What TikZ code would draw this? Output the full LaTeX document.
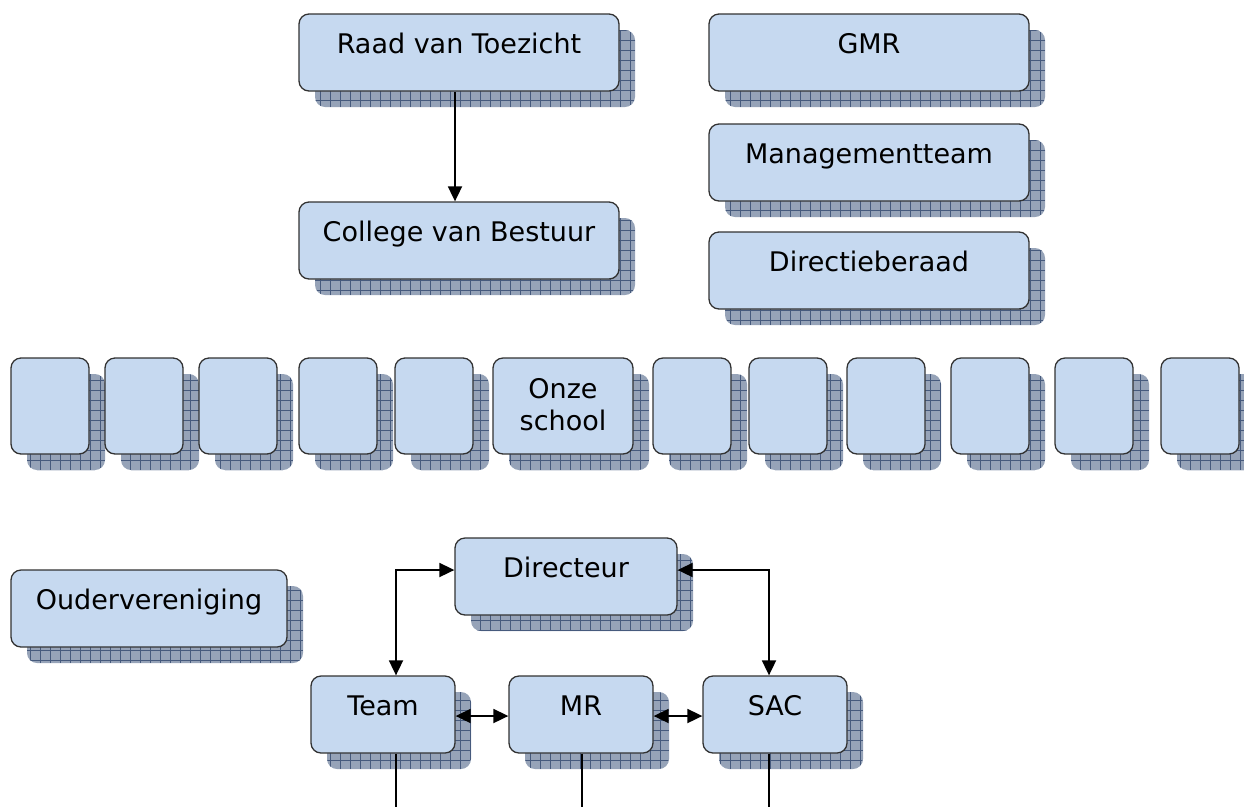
\documentclass[tikz,border=0pt]{standalone}
\usepackage{fontspec}
\setmainfont{DejaVu Sans}
\usetikzlibrary{arrows.meta}
\definecolor{boxfill}{RGB}{198,217,240}
\definecolor{boxline}{RGB}{50,50,50}
\definecolor{shadowfill}{RGB}{150,163,184}
\definecolor{gridline}{RGB}{70,90,125}
\tikzset{
  orgbox/.style={draw=boxline, line width=1.3pt, fill=boxfill, rounded corners=10pt, inner sep=0pt},
  shadowbox/.style={fill=shadowfill, rounded corners=10pt,
    path picture={\draw[gridline, line width=0.5pt, step=10pt] (path picture bounding box.south west) grid (path picture bounding box.north east);}},
  lbl/.style={font=\fontsize{27}{32}\selectfont, inner sep=0pt, align=center},
  conn/.style={line width=1.8pt, black},
  tip/.style={-{Triangle[length=15pt,width=14pt]}},
  tips/.style={{Triangle[length=15pt,width=14pt]}-{Triangle[length=15pt,width=14pt]}}
}
% name, x1, y1, x2, y2
\newcommand\orgunit[5]{%
  \path[shadowbox] ({#2+16},{#3+16}) rectangle ({#4+16},{#5+16});
  \node[orgbox, minimum width={#4-#2}, minimum height={#5-#3}] (#1) at ({(#2+#4)/2},{(#3+#5)/2}) {};
}
\begin{document}
\begin{tikzpicture}[x=1pt,y=-1pt]
\useasboundingbox (0,0) rectangle (1244,807);
\begin{scope}
\clip (0,0) rectangle (1244,807);
% top
\orgunit{raad}{299}{14}{619}{91}
\orgunit{cvb}{299}{202}{619}{279}
\orgunit{gmr}{709}{14}{1029}{91}
\orgunit{mt}{709}{124}{1029}{201}
\orgunit{db}{709}{232}{1029}{309}
% schools row
\orgunit{s1}{11}{358}{89}{454}
\orgunit{s2}{105}{358}{183}{454}
\orgunit{s3}{199}{358}{277}{454}
\orgunit{s4}{299}{358}{377}{454}
\orgunit{s5}{395}{358}{473}{454}
\orgunit{onze}{493}{358}{633}{454}
\orgunit{s7}{653}{358}{731}{454}
\orgunit{s8}{749}{358}{827}{454}
\orgunit{s9}{847}{358}{925}{454}
\orgunit{s10}{951}{358}{1029}{454}
\orgunit{s11}{1055}{358}{1133}{454}
\orgunit{s12}{1161}{358}{1239}{454}
% bottom
\orgunit{ov}{11}{570}{287}{647}
\orgunit{dir}{455}{538}{677}{615}
\orgunit{team}{311}{676}{455}{753}
\orgunit{mr}{509}{676}{653}{753}
\orgunit{sac}{703}{676}{847}{753}
\end{scope}
% labels
\node[lbl, anchor=base] (raad-t) at (459,53) {Raad van Toezicht};
\node[lbl, anchor=base] (cvb-t) at (459,241) {College van Bestuur};
\node[lbl, anchor=base] (gmr-t) at (869,53) {GMR};
\node[lbl, anchor=base] (mt-t) at (869,163) {Managementteam};
\node[lbl, anchor=base] (db-t) at (869,271) {Directieberaad};
\node[lbl] (onze-t) at (563,405) {Onze\\school};
\node[lbl, anchor=base] (ov-t) at (149,609) {Oudervereniging};
\node[lbl, anchor=base] (dir-t) at (566,577) {Directeur};
\node[lbl, anchor=base] (team-t) at (383,715) {Team};
\node[lbl, anchor=base] (mr-t) at (581,715) {MR};
\node[lbl, anchor=base] (sac-t) at (775,715) {SAC};
% connectors
\draw[conn, tip] ([xshift=-4pt]raad.south) -- ([xshift=-4pt]cvb.north);
\draw[conn, tips] ([yshift=6.5pt]dir.west) -| ([xshift=13pt]team.north);
\draw[conn, tips] ([yshift=6.5pt]dir.east) -| ([xshift=-6pt]sac.north);
\draw[conn, tips] ([yshift=-1.5pt]team.east) -- ([yshift=-1.5pt]mr.west);
\draw[conn, tips] ([yshift=-1.5pt]mr.east) -- ([yshift=-1.5pt]sac.west);
\coordinate (teamend) at (396,807);
\coordinate (mrend) at (582,807);
\coordinate (sacend) at (769,807);
\draw[conn] ([xshift=13pt]team.south) -- (teamend);
\draw[conn] ([xshift=1pt]mr.south) -- (mrend);
\draw[conn] ([xshift=-6pt]sac.south) -- (sacend);
\end{tikzpicture}
\end{document}
